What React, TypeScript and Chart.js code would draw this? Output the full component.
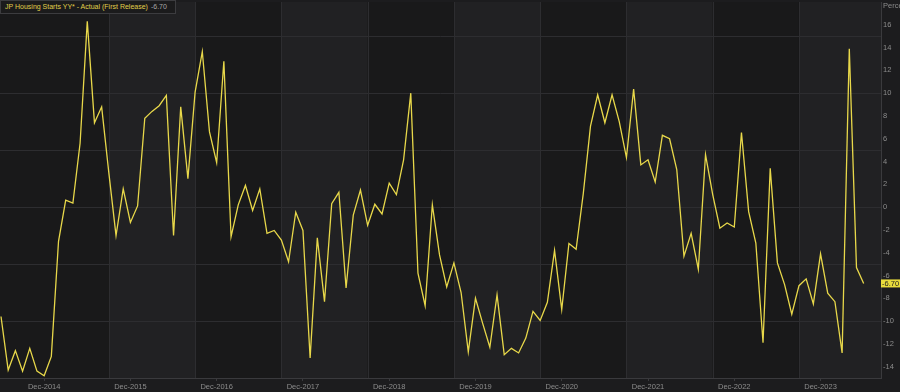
import React, { useEffect, useRef } from 'react';
import { Chart, registerables } from 'chart.js';

Chart.register(...registerables);

const seriesName = 'JP Housing Starts YY* - Actual (First Release)';
const lastValueText = '-6.70';

// Monthly YoY %, Jun-2014 .. Jun-2024
const values = [
  -9.6, -14.3, -12.6, -14.4, -12.4, -14.4, -14.8, -13.1, -3.0, 0.6,
  0.35, 5.6, 16.3, 7.4, 8.8, 3.0, -2.5, 1.6, -1.35, 0.1,
  7.8, 8.4, 8.9, 9.8, -2.5, 8.8, 2.5, 10.1, 13.65, 6.6,
  3.9, 12.8, -2.6, 0.2, 1.9, -0.3, 1.6, -2.3, -2.05, -2.9,
  -4.8, -0.45, -2.05, -13.25, -2.7, -8.3, 0.3, 1.3, -7.1, -0.7,
  1.5, -1.6, 0.25, -0.6, 2.1, 1.1, 4.15, 10.0, -5.8, -8.65,
  0.2, -4.2, -7.0, -4.9, -7.5, -12.7, -8.0, -10.2, -12.3, -7.7,
  -12.95, -12.4, -12.8, -11.5, -9.15, -9.95, -8.35, -3.8, -9.0, -3.2,
  -3.7, 1.2, 7.1, 9.85, 7.4, 9.85, 7.5, 4.35, 10.35, 3.7,
  4.15, 2.2, 6.3, 6.0, 3.3, -4.3, -2.3, -5.45, 4.6, 1.1,
  -1.85, -1.4, -1.75, 6.55, -0.4, -3.15, -11.9, 3.4, -4.9, -6.8,
  -9.4, -6.9, -6.3, -8.5, -4.1, -7.55, -8.3, -12.8, 13.9, -5.3,
  -6.7,
];

const xTickLabels = [
  'Dec-2014', 'Dec-2015', 'Dec-2016', 'Dec-2017', 'Dec-2018',
  'Dec-2019', 'Dec-2020', 'Dec-2021', 'Dec-2022', 'Dec-2023',
];
const xTickIndex = [6, 18, 30, 42, 54, 66, 78, 90, 102, 114];
const bandEdges = [15, 27, 39, 51, 63, 75, 87, 99, 111];
const yLabelValues = [-14, -12, -10, -8, -6, -4, -2, 0, 2, 4, 6, 8, 10, 12, 14, 16];
const yGridValues = [-15, -10, -5, 0, 5, 10, 15];

const FONT = '"Liberation Sans", Arial, sans-serif';
const BG = '#1c1c1e';
const BAND_DARK = '#19191a';
const BAND_LIGHT = '#212123';
const GRID = '#2d2d30';
const AXIS = '#3a3a3d';
const TICK = '#8c8c8c';
const LINE = '#e8d84a';

const bgPlugin = {
  id: 'bands',
  beforeDraw(chart: any) {
    const { ctx, chartArea, scales } = chart;
    const x = scales.x;
    ctx.save();
    ctx.fillStyle = BG;
    ctx.fillRect(0, 0, chart.width, chart.height);
    const edges = [chartArea.left, ...bandEdges.map((v) => x.getPixelForValue(v)), chartArea.right];
    for (let i = 0; i < edges.length - 1; i++) {
      ctx.fillStyle = i % 2 === 0 ? BAND_DARK : BAND_LIGHT;
      ctx.fillRect(edges[i], chartArea.top, edges[i + 1] - edges[i], chartArea.bottom - chartArea.top);
    }
    ctx.strokeStyle = GRID;
    ctx.lineWidth = 1;
    bandEdges.forEach((v) => {
      const px = Math.round(x.getPixelForValue(v)) + 0.5;
      ctx.beginPath();
      ctx.moveTo(px, chartArea.top);
      ctx.lineTo(px, chartArea.bottom);
      ctx.stroke();
    });
    ctx.restore();
  },
  afterDraw(chart: any) {
    const { ctx, chartArea, scales } = chart;
    const y = scales.y;
    ctx.save();
    // axis unit title
    ctx.font = `7.5px ${FONT}`;
    ctx.fillStyle = TICK;
    ctx.textBaseline = 'middle';
    ctx.textAlign = 'left';
    ctx.fillText('Percent', chartArea.right + 2, 6);
    // last value label
    const last = values[values.length - 1];
    const py = y.getPixelForValue(last);
    ctx.fillStyle = '#e9dc3c';
    ctx.fillRect(chartArea.right, py - 4, chart.width - chartArea.right, 8);
    ctx.fillStyle = '#1e1e1e';
    ctx.font = `7.5px ${FONT}`;
    ctx.fillText(lastValueText, chartArea.right + 1, py + 0.5);
    ctx.restore();
  },
};

export default function App() {
  const ref = useRef<HTMLCanvasElement>(null);

  useEffect(() => {
    document.body.style.margin = '0';
    document.body.style.background = BG;
    const canvas = ref.current;
    if (!canvas) return;
    const chart = new Chart(canvas, {
      type: 'line',
      data: {
        datasets: [
          {
            label: seriesName,
            data: values.map((v, i) => ({ x: i, y: v })),
            borderColor: LINE,
            borderWidth: 1.3,
            pointRadius: 0,
            tension: 0,
            fill: false,
          },
        ],
      },
      options: {
        animation: false,
        responsive: false,
        maintainAspectRatio: false,
        layout: { padding: { top: 2, left: 0, right: 0, bottom: 0 } },
        plugins: { legend: { display: false }, tooltip: { enabled: false } },
        scales: {
          x: {
            type: 'linear',
            min: -0.14,
            max: 122.41,
            afterBuildTicks(scale: any) {
              scale.ticks = xTickIndex.map((v) => ({ value: v }));
            },
            afterFit(scale: any) {
              scale.height = 14;
              scale.paddingLeft = 0;
              scale.paddingRight = 0;
            },
            ticks: {
              autoSkip: false,
              maxRotation: 0,
              padding: 1,
              color: TICK,
              font: { family: FONT, size: 7.5 },
              callback(value: any) {
                const k = xTickIndex.indexOf(Number(value));
                return k >= 0 ? xTickLabels[k] : '';
              },
            },
            grid: { drawOnChartArea: false, drawTicks: true, tickLength: 3, color: AXIS },
            border: { display: true, color: AXIS },
          },
          y: {
            position: 'right',
            min: -15,
            max: 18,
            afterBuildTicks(scale: any) {
              const set = Array.from(new Set([...yLabelValues, ...yGridValues])).sort((a, b) => a - b);
              scale.ticks = set.map((v) => ({ value: v }));
            },
            afterFit(scale: any) {
              scale.width = 19;
              scale.paddingTop = 0;
              scale.paddingBottom = 0;
            },
            ticks: {
              autoSkip: false,
              padding: 2,
              color: TICK,
              font: { family: FONT, size: 7.5 },
              callback(value: any) {
                return yLabelValues.includes(Number(value)) ? String(value) : '';
              },
            },
            grid: {
              drawTicks: false,
              color: (c: any) => (yGridValues.includes(c.tick?.value) ? GRID : 'rgba(0,0,0,0)'),
            },
            border: { display: true, color: AXIS },
          },
        },
      },
      plugins: [bgPlugin],
    } as any);
    return () => chart.destroy();
  }, []);

  return (
    <div style={{ position: 'relative', width: 900, height: 392, background: BG }}>
      <canvas ref={ref} width={900} height={392} style={{ display: 'block', width: 900, height: 392 }} />
      <div
        style={{
          position: 'absolute',
          left: 0,
          top: 0,
          width: 176,
          height: 14,
          boxSizing: 'border-box',
          background: '#1b1b1c',
          border: '1px solid #3c3c3f',
          font: `7px ${FONT}`,
          lineHeight: '12px',
          paddingLeft: 4,
          whiteSpace: 'nowrap',
          overflow: 'hidden',
        }}
      >
        <span style={{ color: '#e0cf4a' }}>{seriesName}</span>
        <span style={{ color: '#a8a8a8', marginLeft: 3 }}>{lastValueText}</span>
      </div>
    </div>
  );
}
